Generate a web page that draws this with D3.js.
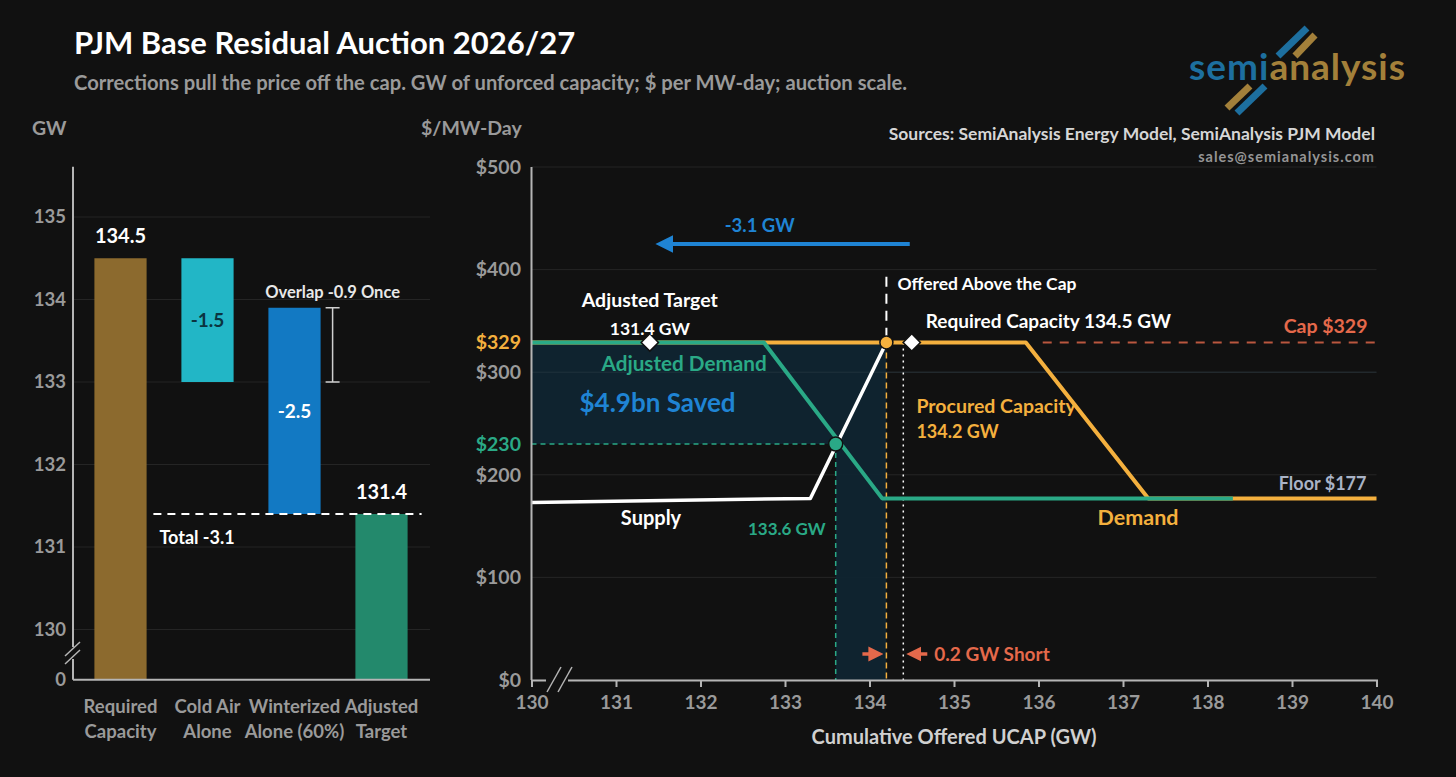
<!DOCTYPE html>
<html>
<head>
<meta charset="utf-8">
<style>
  body { margin: 0; background: #111111; }
  svg { display: block; font-family: Lato, "Open Sans", sans-serif; font-weight: 700; }
</style>
</head>
<body>
<svg width="1456" height="777"></svg>
<script src="https://cdn.jsdelivr.net/npm/d3@7"></script>
<script>

// ---- left panel data (GW) ----
var barCats   = ["Required Capacity", "Cold Air Alone", "Winterized Alone (60%)", "Adjusted Target"];
var barLines  = [["Required", "Capacity"], ["Cold Air", "Alone"], ["Winterized", "Alone (60%)"], ["Adjusted", "Target"]];
var barTop    = [134.5, 134.5, 133.9, 131.4];
var barBase   = [null, 133.0, 131.4, null];   // null = sits on the axis
var barText   = ["134.5", "-1.5", "-2.5", "131.4"];
var gwTicks   = [130, 131, 132, 133, 134, 135];
var overlap   = [133.0, 133.9];
var totalLevel = 131.4;

// ---- right panel data ($/MW-day vs GW) ----
var priceTicks = [0, 100, 200, 300, 400, 500];
var ucapTicks  = [130, 131, 132, 133, 134, 135, 136, 137, 138, 139, 140];
var supply     = [[130, 173], [133.3, 177], [134.2, 329]];
var demand     = [[130, 329], [135.85, 329], [137.3, 177], [140, 177]];
var adjDemand  = [[130, 329], [132.75, 329], [134.15, 177], [138.3, 177]];
var capPrice = 329, floorPrice = 177;
var clearGW = 133.6, clearPrice = 230;
var procuredGW = 134.2, requiredGW = 134.5, targetGW = 131.4, shortGW = 134.4;

var bg = "#111111",
    grid = "#252525",
    axisC = "#b5b5b5",
    tickC = "#9a9a9a",
    orange = "#f4b03e",
    teal = "#2aa986",
    blue = "#1f84d4",
    coral = "#e5694b";

var svg = d3.select("svg");
svg.append("rect").attr("width", 1456).attr("height", 777).attr("fill", bg);

// ---- header ----
svg.append("text").attr("x", 74).attr("y", 43).attr("dy", "0.35em")
    .attr("fill", "#fff").attr("font-size", 31).text("PJM Base Residual Auction 2026/27");
svg.append("text").attr("x", 74).attr("y", 83).attr("dy", "0.35em")
    .attr("fill", "#9a9a9a").attr("font-size", 20.2)
    .text("Corrections pull the price off the cap. GW of unforced capacity; $ per MW-day; auction scale.");

// logo
var logo = svg.append("g");
[[1278, 56, 1307, 28, "#1d6f9f"], [1295, 56, 1315, 35, "#a3803a"],
 [1227, 108, 1250, 86, "#a3803a"], [1237, 113, 1265, 86, "#1d6f9f"]].forEach(function(s) {
  logo.append("line").attr("x1", s[0]).attr("y1", s[1]).attr("x2", s[2]).attr("y2", s[3])
      .attr("stroke", s[4]).attr("stroke-width", 7);
});
var lt = logo.append("text").attr("x", 1189).attr("y", 67).attr("dy", "0.35em")
    .attr("font-size", 37).attr("textLength", 216);
lt.append("tspan").attr("fill", "#1d6f9f").text("semi");
lt.append("tspan").attr("fill", "#a3803a").text("analysis");

svg.append("text").attr("x", 1375).attr("y", 134).attr("dy", "0.35em").attr("text-anchor", "end")
    .attr("fill", "#d6d6d6").attr("font-size", 17.5).text("Sources: SemiAnalysis Energy Model, SemiAnalysis PJM Model");
svg.append("text").attr("x", 1375).attr("y", 157).attr("dy", "0.35em").attr("text-anchor", "end")
    .attr("fill", "#959595").attr("font-size", 14.5).attr("letter-spacing", 1)
    .text("sales@semianalysis.com");

svg.append("text").attr("x", 32).attr("y", 128).attr("dy", "0.35em")
    .attr("fill", tickC).attr("font-size", 19.5).text("GW");
svg.append("text").attr("x", 421).attr("y", 128).attr("dy", "0.35em")
    .attr("fill", tickC).attr("font-size", 19.5).text("$/MW-Day");

// ================= LEFT: waterfall =================
var lLeft = 73, lRight = 430, lFloor = 129.39, lCeil = 135.61;
var xL = d3.scaleBand().domain(barCats).range([77, 425]).paddingInner(0.4).paddingOuter(0.2);
var yL = d3.scaleLinear().domain([130, 135]).range([629.5, 217]);
var gL = svg.append("g");

gL.selectAll(".grid").data(gwTicks).enter().append("line")
    .attr("x1", lLeft).attr("x2", lRight)
    .attr("y1", function(d) { return yL(d); }).attr("y2", function(d) { return yL(d); })
    .attr("stroke", grid).attr("stroke-width", 1);
gL.selectAll(".tl").data(gwTicks).enter().append("text")
    .attr("x", 66).attr("y", function(d) { return yL(d); }).attr("dy", "0.35em")
    .attr("text-anchor", "end").attr("fill", tickC).attr("font-size", 18.5).text(function(d) { return d; });
gL.append("text").attr("x", 66).attr("y", yL(lFloor)).attr("dy", "0.35em")
    .attr("text-anchor", "end").attr("fill", tickC).attr("font-size", 18.5).text("0");

gL.selectAll(".bar").data(barCats).enter().append("rect")
    .attr("x", function(d) { return xL(d); })
    .attr("width", xL.bandwidth())
    .attr("y", function(d, i) { return yL(barTop[i]); })
    .attr("height", function(d, i) { return yL(barBase[i] == null ? lFloor : barBase[i]) - yL(barTop[i]); })
    .attr("fill", function(d, i) { return ["#8c6a2e", "#22b6c6", "#1279c3", "#23896c"][i]; });

gL.selectAll(".bl").data(barCats).enter().append("text")
    .attr("x", function(d) { return xL(d) + xL.bandwidth() / 2; })
    .attr("y", function(d, i) {
      return barBase[i] == null ? yL(barTop[i]) - 22 : (yL(barTop[i]) + yL(barBase[i])) / 2;
    })
    .attr("dy", "0.35em").attr("text-anchor", "middle")
    .attr("font-size", function(d, i) { return barBase[i] == null ? 20 : 19; })
    .attr("fill", function(d, i) { return i === 1 ? "#0b3440" : "#fff"; })
    .text(function(d, i) { return barText[i]; });

// axis + break
gL.append("line").attr("x1", lLeft).attr("x2", lLeft).attr("y1", yL(lCeil)).attr("y2", yL(lFloor))
    .attr("stroke", axisC).attr("stroke-width", 2);
gL.append("line").attr("x1", lLeft).attr("x2", lRight).attr("y1", yL(lFloor)).attr("y2", yL(lFloor))
    .attr("stroke", axisC).attr("stroke-width", 2);
gL.append("rect").attr("x", lLeft - 3).attr("y", 647).attr("width", 6).attr("height", 12).attr("fill", bg);
[0, 8].forEach(function(o) {
  gL.append("line").attr("x1", 65).attr("y1", 656 + o).attr("x2", 80).attr("y2", 642 + o)
      .attr("stroke", axisC).attr("stroke-width", 1.5);
});

// overlap bracket
var bx = xL(barCats[2]) + xL.bandwidth() + 12;
gL.append("line").attr("x1", bx).attr("x2", bx).attr("y1", yL(overlap[1])).attr("y2", yL(overlap[0]))
    .attr("stroke", "#d0d0d0").attr("stroke-width", 1.5);
overlap.forEach(function(v) {
  gL.append("line").attr("x1", bx - 7).attr("x2", bx + 7).attr("y1", yL(v)).attr("y2", yL(v))
      .attr("stroke", "#d0d0d0").attr("stroke-width", 1.5);
});
gL.append("text").attr("x", bx).attr("y", yL(overlap[1]) - 16).attr("dy", "0.35em").attr("text-anchor", "middle")
    .attr("fill", "#e8e8e8").attr("font-size", 16.5).text("Overlap -0.9 Once");

// total line
gL.append("line").attr("x1", xL(barCats[1]) - 28).attr("x2", xL(barCats[3]) + xL.bandwidth() + 14)
    .attr("y1", yL(totalLevel)).attr("y2", yL(totalLevel))
    .attr("stroke", "#fff").attr("stroke-width", 2).attr("stroke-dasharray", "8,6");
gL.append("text").attr("x", xL(barCats[1]) - 22).attr("y", yL(totalLevel) + 24).attr("dy", "0.35em")
    .attr("fill", "#fff").attr("font-size", 18).text("Total -3.1");

// category labels
barCats.forEach(function(c, i) {
  barLines[i].forEach(function(l, j) {
    gL.append("text").attr("x", xL(c) + xL.bandwidth() / 2).attr("y", 707 + j * 25).attr("dy", "0.35em")
        .attr("text-anchor", "middle").attr("fill", tickC).attr("font-size", 18.5).text(l);
  });
});

// ================= RIGHT: supply / demand =================
var x = d3.scaleLinear().domain([130, 140]).range([531.5, 1376.5]);
var y = d3.scaleLinear().domain([0, 500]).range([680, 167]);
var g = svg.append("g");

g.selectAll(".grid").data(priceTicks).enter().append("line")
    .attr("x1", x(130)).attr("x2", x(140))
    .attr("y1", function(d) { return y(d); }).attr("y2", function(d) { return y(d); })
    .attr("stroke", grid).attr("stroke-width", 1);

// saved area
var saved = [[130, capPrice], [procuredGW, capPrice], [procuredGW, 0], [clearGW, 0], [clearGW, clearPrice], [130, clearPrice]];
g.append("path")
    .attr("d", d3.line().x(function(d) { return x(d[0]); }).y(function(d) { return y(d[1]); })(saved) + "Z")
    .attr("fill", "#0f2532").attr("opacity", 0.92);
g.append("line").attr("x1", x(130)).attr("x2", x(140)).attr("y1", y(300)).attr("y2", y(300))
    .attr("stroke", "#2a3a45").attr("stroke-width", 1).attr("opacity", 0.6);

var line = d3.line().x(function(d) { return x(d[0]); }).y(function(d) { return y(d[1]); });

// cap dashed
g.append("line").attr("x1", x(136.05)).attr("x2", x(140)).attr("y1", y(capPrice)).attr("y2", y(capPrice))
    .attr("stroke", coral).attr("stroke-width", 2).attr("stroke-dasharray", "9,8").attr("opacity", 0.8);

// guides
g.append("line").attr("x1", x(130)).attr("x2", x(clearGW)).attr("y1", y(clearPrice)).attr("y2", y(clearPrice))
    .attr("stroke", teal).attr("stroke-width", 1.5).attr("stroke-dasharray", "5,4");
g.append("line").attr("x1", x(clearGW)).attr("x2", x(clearGW)).attr("y1", y(clearPrice)).attr("y2", y(0))
    .attr("stroke", teal).attr("stroke-width", 1.5).attr("stroke-dasharray", "5,4");
g.append("line").attr("x1", x(procuredGW)).attr("x2", x(procuredGW)).attr("y1", y(capPrice)).attr("y2", y(0))
    .attr("stroke", orange).attr("stroke-width", 1.5).attr("stroke-dasharray", "6,4");
g.append("line").attr("x1", x(shortGW)).attr("x2", x(shortGW)).attr("y1", y(capPrice)).attr("y2", y(0))
    .attr("stroke", "#fff").attr("stroke-width", 1.5).attr("stroke-dasharray", "2,4");
g.append("line").attr("x1", x(procuredGW)).attr("x2", x(procuredGW)).attr("y1", y(393)).attr("y2", y(capPrice))
    .attr("stroke", "#fff").attr("stroke-width", 2).attr("stroke-dasharray", "10,7");

// curves
g.append("path").datum(demand).attr("d", line).attr("fill", "none")
    .attr("stroke", orange).attr("stroke-width", 4).attr("stroke-linejoin", "round");
g.append("path").datum(adjDemand).attr("d", line).attr("fill", "none")
    .attr("stroke", teal).attr("stroke-width", 4).attr("stroke-linejoin", "round");
g.append("path").datum(supply).attr("d", line).attr("fill", "none")
    .attr("stroke", "#fff").attr("stroke-width", 3.5).attr("stroke-linejoin", "round");

// points
g.append("circle").attr("cx", x(procuredGW)).attr("cy", y(capPrice)).attr("r", 6.5)
    .attr("fill", orange).attr("stroke", bg).attr("stroke-width", 1.5);
g.append("circle").attr("cx", x(clearGW)).attr("cy", y(clearPrice)).attr("r", 7)
    .attr("fill", teal).attr("stroke", bg).attr("stroke-width", 1.5);
[targetGW, requiredGW].forEach(function(v) {
  g.append("path").attr("d", d3.symbol(d3.symbolSquare, 150)())
      .attr("transform", "translate(" + x(v) + "," + y(capPrice) + ") rotate(45)")
      .attr("fill", "#fff").attr("stroke", bg).attr("stroke-width", 1.5);
});

// markers
var defs = g.append("defs");
defs.append("marker").attr("id", "ah").attr("viewBox", "0 0 10 10")
    .attr("refX", 2).attr("refY", 5).attr("markerWidth", 4.5).attr("markerHeight", 4.5)
    .attr("orient", "auto")
  .append("path").attr("d", "M0,0L10,5L0,10Z").attr("fill", blue);
defs.append("marker").attr("id", "ahc").attr("viewBox", "0 0 10 10")
    .attr("refX", 2).attr("refY", 5).attr("markerWidth", 4.3).attr("markerHeight", 4.3)
    .attr("orient", "auto")
  .append("path").attr("d", "M0,0L10,5L0,10Z").attr("fill", coral);

// shift arrow
g.append("line").attr("x1", x(requiredGW) - 2).attr("x2", x(targetGW) + 20)
    .attr("y1", y(425)).attr("y2", y(425))
    .attr("stroke", blue).attr("stroke-width", 4).attr("marker-end", "url(#ah)");
g.append("text").attr("x", x(132.7)).attr("y", y(443)).attr("dy", "0.35em").attr("text-anchor", "middle")
    .attr("fill", blue).attr("font-size", 18.5).text("-3.1 GW");

// short arrows
g.append("line").attr("x1", x(procuredGW) - 24).attr("x2", x(procuredGW) - 15).attr("y1", 654).attr("y2", 654)
    .attr("stroke", coral).attr("stroke-width", 3.5).attr("marker-end", "url(#ahc)");
g.append("line").attr("x1", x(shortGW) + 24).attr("x2", x(shortGW) + 15).attr("y1", 654).attr("y2", 654)
    .attr("stroke", coral).attr("stroke-width", 3.5).attr("marker-end", "url(#ahc)");

// axes
g.append("line").attr("x1", x(130)).attr("x2", x(130)).attr("y1", y(500)).attr("y2", y(0))
    .attr("stroke", axisC).attr("stroke-width", 2);
var xAxis = g.append("g").attr("transform", "translate(0," + y(0) + ")")
    .call(d3.axisBottom(x).tickValues(ucapTicks).tickSize(7).tickPadding(9).tickFormat(d3.format("d")));
xAxis.select(".domain").attr("stroke", axisC).attr("stroke-width", 2);
xAxis.selectAll(".tick line").attr("stroke", axisC).attr("stroke-width", 2);
xAxis.selectAll(".tick text").attr("fill", tickC).attr("font-size", 19)
    .attr("font-family", "Lato, sans-serif").attr("font-weight", 700);
g.append("rect").attr("x", 546).attr("y", 676).attr("width", 22).attr("height", 8).attr("fill", bg);
[0, 11].forEach(function(o) {
  g.append("line").attr("x1", 547 + o).attr("y1", 692).attr("x2", 561 + o).attr("y2", 667)
      .attr("stroke", axisC).attr("stroke-width", 1.5);
});

g.selectAll(".yl").data(priceTicks).enter().append("text")
    .attr("x", 521).attr("y", function(d) { return y(d); }).attr("dy", "0.35em").attr("text-anchor", "end")
    .attr("fill", tickC).attr("font-size", 19.5).text(function(d) { return "$" + d; });
g.append("text").attr("x", 521).attr("y", y(capPrice)).attr("dy", "0.35em").attr("text-anchor", "end")
    .attr("fill", orange).attr("font-size", 19.5).text("$" + capPrice);
g.append("text").attr("x", 521).attr("y", y(clearPrice)).attr("dy", "0.35em").attr("text-anchor", "end")
    .attr("fill", teal).attr("font-size", 19.5).text("$" + clearPrice);

g.append("text").attr("x", (x(130) + x(140)) / 2).attr("y", 737).attr("dy", "0.35em").attr("text-anchor", "middle")
    .attr("fill", "#d0d0d0").attr("font-size", 20).text("Cumulative Offered UCAP (GW)");

// annotations
function note(t, px, py, col, size, anchor) {
  g.append("text").attr("x", px).attr("y", py).attr("dy", "0.35em")
      .attr("text-anchor", anchor || "start").attr("fill", col).attr("font-size", size).text(t);
}
note("Adjusted Target", x(targetGW), y(capPrice) - 42, "#fff", 19.5, "middle");
note("131.4 GW", x(targetGW), y(capPrice) - 14, "#fff", 17.5, "middle");
note("Adjusted Demand", x(130) + 70, y(capPrice) + 21, teal, 20.7);
note("$4.9bn Saved", x(130) + 48, y(capPrice) + 60, blue, 26);
note("Offered Above the Cap", x(procuredGW) + 11, 284, "#fff", 17.5);
note("Required Capacity 134.5 GW", x(requiredGW) + 14, y(capPrice) - 21, "#fff", 19);
note("Procured Capacity", x(procuredGW) + 30, 406, orange, 19.5);
note("134.2 GW", x(procuredGW) + 30, 432, orange, 18);
note("Cap $329", x(140) - 9, y(capPrice) - 16, coral, 19.5, "end");
note("Floor $177", x(140) - 10, y(floorPrice) - 15, "#a9b3c6", 18, "end");
note("Supply", 651, y(173) + 15, "#fff", 20, "middle");
note("133.6 GW", x(clearGW) - 10, 529, teal, 17, "end");
note("Demand", 1138, y(floorPrice) + 19, orange, 21.5, "middle");
note("0.2 GW Short", x(shortGW) + 31, 654, coral, 19);

</script>
</body>
</html>
